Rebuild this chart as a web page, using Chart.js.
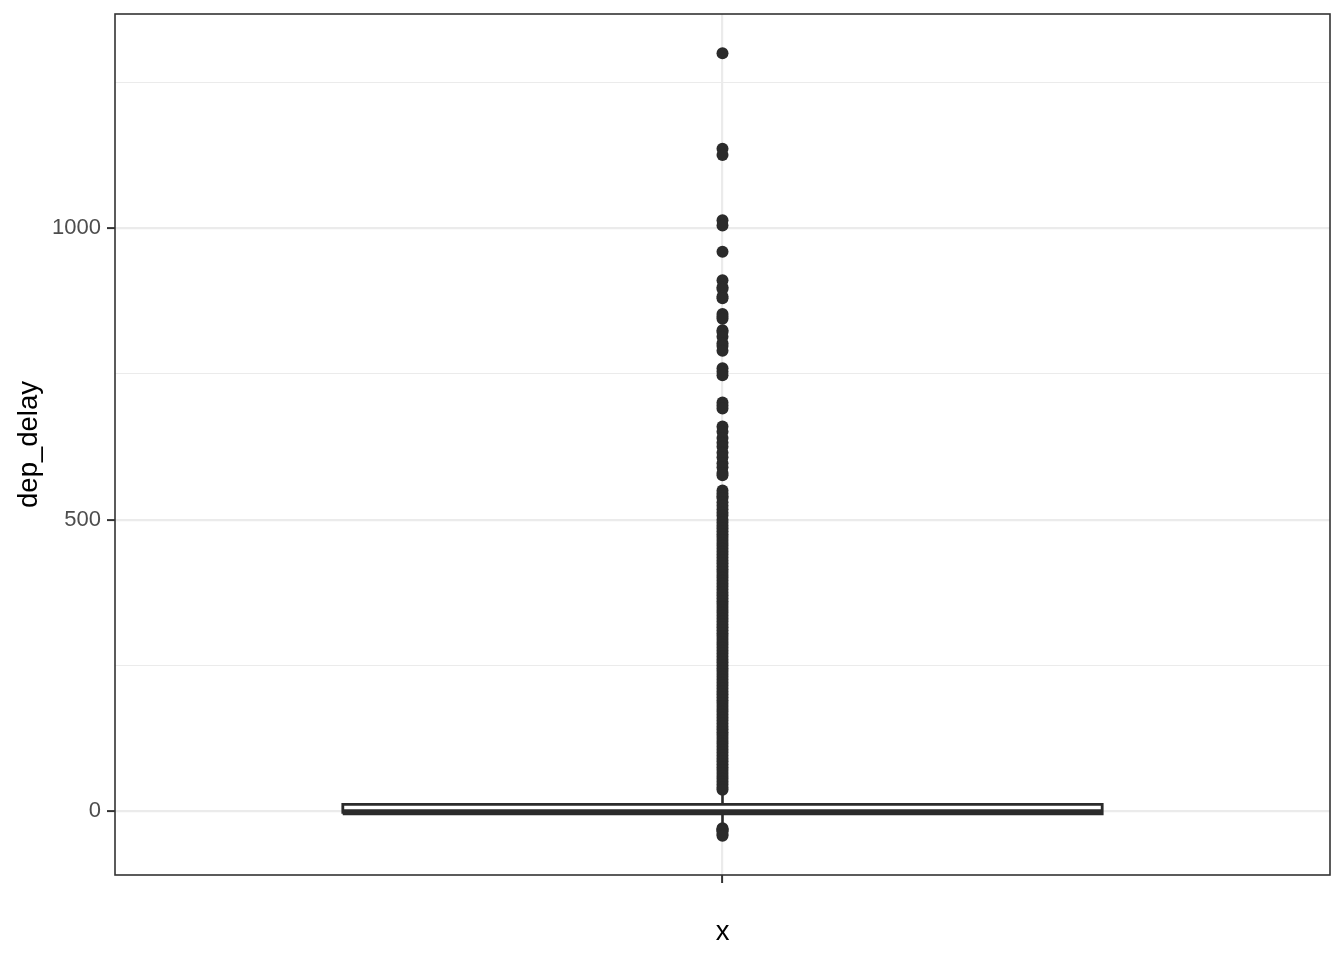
<!DOCTYPE html>
<html>
<head>
<meta charset="utf-8">
<script src="https://cdn.jsdelivr.net/npm/chart.js@4.4.1/dist/chart.umd.min.js"></script>
<style>
  html, body { margin: 0; padding: 0; background: #ffffff; }
  #wrap { width: 1344px; height: 960px; position: relative; }
</style>
</head>
<body>
<div id="wrap"><canvas id="c" width="1344" height="960"></canvas></div>
<script>
// ---- data ----
const categories = ['x'];
const categoryPositions = [1];
const q1 = -5;
const median = -2;
const q3 = 11;
const whiskerLow = -25;
const whiskerHigh = 35;
const outliersLow = [-30, -32, -33, -35, -40, -43];
const outliersHigh = [
  1301, 1137, 1126, 1014, 1005, 960, 911, 899, 896, 883, 880,
  853, 849, 845, 825, 822, 814, 803, 798, 790, 760, 754, 748,
  701, 696, 691, 660, 651, 640, 632, 625, 615, 607, 597, 590, 580, 576,
  550, 545, 540, 537, 530, 524, 518, 512, 507, 500, 495, 490, 485, 480,
  475, 470, 465, 460, 455, 450, 445, 440, 435, 430, 425, 420, 415, 410,
  405, 400, 395, 390, 385, 380, 375, 370, 365, 360, 355, 350, 345, 340,
  335, 330, 325, 320, 315, 310, 305, 300, 295, 290, 285, 280, 275, 270,
  265, 260, 255, 250, 245, 240, 235, 230, 225, 220, 215, 210, 205, 200,
  195, 190, 185, 180, 175, 170, 165, 160, 155, 150, 145, 140, 135, 130,
  125, 120, 115, 110, 105, 100, 95, 90, 85, 80, 75, 70, 65, 60, 55, 50,
  45, 40, 36
];
const yMajorTicks = [0, 500, 1000];
const yMinorTicks = [250, 750, 1250];
const yMin = -110.2;
const yMax = 1368.2;

// ---- style ----
const boxHalf = 0.375;
const dark = '#2b2b2b';
const gridCol = '#ebebeb';

const cx = categoryPositions[0];
const boxPath = [
  {x: cx - boxHalf, y: q1}, {x: cx + boxHalf, y: q1},
  {x: cx + boxHalf, y: q3}, {x: cx - boxHalf, y: q3},
  {x: cx - boxHalf, y: q1}
];
const medianPath = [{x: cx - boxHalf, y: median}, {x: cx + boxHalf, y: median}];
const upperWhisker = [{x: cx, y: q3}, {x: cx, y: whiskerHigh}];
const lowerWhisker = [{x: cx, y: q1}, {x: cx, y: whiskerLow}];
const outlierPts = outliersHigh.concat(outliersLow).map(v => ({x: cx, y: v}));

const panelBorder = {
  id: 'panelBorder',
  afterDraw(chart) {
    const a = chart.chartArea, ctx = chart.ctx;
    ctx.save();
    ctx.strokeStyle = '#333333';
    ctx.lineWidth = 1.6;
    ctx.strokeRect(a.left, a.top, a.right - a.left, a.bottom - a.top);
    ctx.restore();
  }
};

const lineDs = (data, width, extra) => Object.assign({
  data, showLine: true, borderColor: dark, borderWidth: width,
  pointRadius: 0, pointHoverRadius: 0, tension: 0, fill: false
}, extra || {});

const noPad = s => { s.paddingTop = 0; s.paddingBottom = 0; s.paddingLeft = 0; s.paddingRight = 0; };

new Chart(document.getElementById('c'), {
  type: 'scatter',
  data: {
    datasets: [
      lineDs(medianPath, 5.6, {borderCapStyle: 'butt'}),
      lineDs(boxPath, 2.8, {fill: 'shape', backgroundColor: '#ffffff'}),
      lineDs(upperWhisker, 2.6),
      lineDs(lowerWhisker, 2.6),
      {
        data: outlierPts, showLine: false,
        pointRadius: 6, pointHoverRadius: 6, pointBorderWidth: 0,
        pointBackgroundColor: dark, pointBorderColor: dark
      }
    ]
  },
  options: {
    responsive: false,
    animation: false,
    events: [],
    layout: { padding: { top: 14, right: 14, left: 0, bottom: 0 } },
    plugins: { legend: { display: false }, tooltip: { enabled: false } },
    scales: {
      x: {
        type: 'linear', min: 0.4, max: 1.6,
        afterBuildTicks: s => { s.ticks = categoryPositions.map(v => ({value: v})); },
        afterFit: s => { s.height = 85; noPad(s); },
        ticks: { callback: () => '', font: { family: 'Liberation Sans', size: 22 }, color: '#4d4d4d' },
        grid: { color: gridCol, lineWidth: 2.2, tickLength: 8, tickColor: '#333333', tickWidth: 2 },
        border: { display: false },
        title: { display: true, text: categories[0], color: '#000000',
                 font: { family: 'Liberation Sans', size: 27.5 }, padding: { top: 0, bottom: 11 } }
      },
      y: {
        type: 'linear', min: yMin, max: yMax,
        afterBuildTicks: s => {
          s.ticks = yMajorTicks.concat(yMinorTicks).sort((a, b) => a - b).map(v => ({value: v}));
        },
        afterFit: s => { s.width = 115; noPad(s); },
        ticks: {
          callback: v => yMajorTicks.includes(v) ? String(v) : '',
          font: { family: 'Liberation Sans', size: 22 }, color: '#4d4d4d', padding: 6
        },
        grid: {
          color: gridCol,
          lineWidth: c => yMajorTicks.includes(c.tick.value) ? 2.2 : 1.1,
          tickLength: 8,
          tickColor: c => yMajorTicks.includes(c.tick.value) ? '#333333' : 'rgba(0,0,0,0)',
          tickWidth: 2
        },
        border: { display: false },
        title: { display: true, text: 'dep_delay', color: '#000000',
                 font: { family: 'Liberation Sans', size: 27.5 }, padding: { top: 13, bottom: 0 } }
      }
    }
  },
  plugins: [panelBorder]
});
</script>
</body>
</html>
